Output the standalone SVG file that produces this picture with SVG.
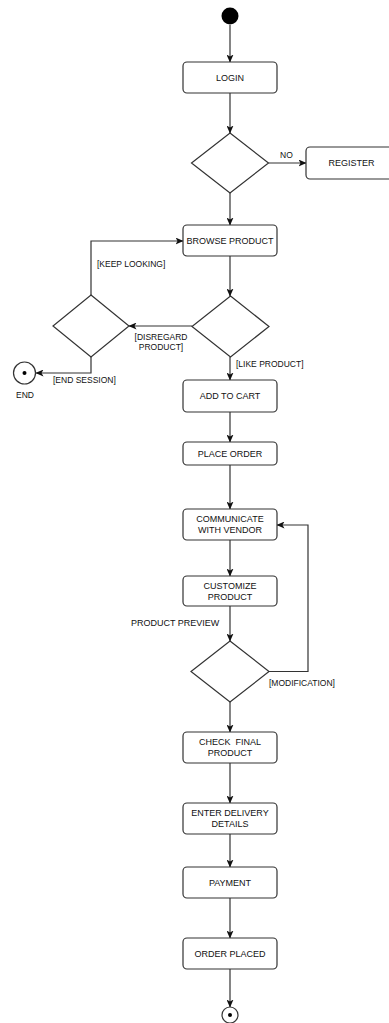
<svg xmlns="http://www.w3.org/2000/svg" width="389" height="1023" viewBox="0 0 389 1023">
<defs>
<style>
.box{fill:#fff;stroke:#333;stroke-width:1.2}
.dia{fill:#fff;stroke:#333;stroke-width:1.2}
.t{font-family:"Liberation Sans",Arial,sans-serif;font-size:9px;fill:#111;text-anchor:middle}
.l{font-family:"Liberation Sans",Arial,sans-serif;font-size:8.5px;fill:#111}
.c{fill:none;stroke:#333;stroke-width:1.2;marker-end:url(#ah)}
</style>
<marker id="ah" viewBox="0 0 8 7" refX="7.5" refY="3.5" markerWidth="8" markerHeight="7" markerUnits="userSpaceOnUse" orient="auto">
<path d="M0,0 L8,3.5 L0,7 L2,3.5 z" fill="#111"/>
</marker>
</defs>
<rect width="389" height="1023" fill="#fff"/>

<g id="connectors">
<path class="c" d="M230,25 V62"/>
<path class="c" d="M230,93 V133"/>
<path class="c" d="M268.5,163 H306"/>
<path class="c" d="M230,193 V225"/>
<path class="c" d="M230,256 V296"/>
<path class="c" d="M192,326 H129"/>
<path class="c" d="M91,295 V241 H183"/>
<path class="c" d="M91,357 V373 H36"/>
<path class="c" d="M230,357 V380"/>
<path class="c" d="M230,412 V442"/>
<path class="c" d="M230,465 V509"/>
<path class="c" d="M230,540 V576"/>
<path class="c" d="M230,606 V641"/>
<path class="c" d="M269,671.5 H308 V525 H277"/>
<path class="c" d="M230,702 V732"/>
<path class="c" d="M230,763 V803"/>
<path class="c" d="M230,834 V867"/>
<path class="c" d="M230,898 V938"/>
<path class="c" d="M230,969 V1007"/>
</g>

<g id="labels">
<text class="l" x="280" y="158">NO</text>
<text class="l" x="97" y="267">[KEEP LOOKING]</text>
<text class="l" x="161" y="340" text-anchor="middle">[DISREGARD</text>
<text class="l" x="161" y="350" text-anchor="middle">PRODUCT]</text>
<text class="l" x="53" y="383">[END SESSION]</text>
<text class="l" x="236" y="367">[LIKE PRODUCT]</text>
<text class="l" x="131" y="626" style="font-size:9px">PRODUCT PREVIEW</text>
<text class="l" x="269" y="686">[MODIFICATION]</text>
</g>

<g id="start"><circle cx="230" cy="16" r="8.5" fill="#000"/></g>

<g id="login"><rect class="box" x="183" y="62" width="94" height="31" rx="4"/><text class="t" x="230" y="80.5">LOGIN</text></g>

<g id="decision1"><polygon class="dia" points="230,133 268.5,163 230,193 191.5,163"/></g>

<g id="register"><rect class="box" x="306" y="147" width="94" height="32" rx="4"/><text class="t" x="351.5" y="166">REGISTER</text></g>

<g id="browse"><rect class="box" x="183" y="225" width="94" height="31" rx="4"/><text class="t" x="230" y="243.5">BROWSE PRODUCT</text></g>

<g id="decision2"><polygon class="dia" points="230.5,296 269,326.5 230.5,357 192,326.5"/></g>

<g id="decision3"><polygon class="dia" points="91,295 129,326 91,357 53,326"/></g>

<g id="end1"><circle cx="24.5" cy="373" r="11" fill="#fff" stroke="#333" stroke-width="1.2"/><circle cx="24.5" cy="373" r="2" fill="#000"/><text class="l" x="16" y="398">END</text></g>

<g id="addcart"><rect class="box" x="183" y="380" width="94" height="32" rx="4"/><text class="t" x="230" y="399">ADD TO CART</text></g>

<g id="placeorder"><rect class="box" x="183" y="442" width="94" height="23" rx="4"/><text class="t" x="230" y="456.5">PLACE ORDER</text></g>

<g id="communicate"><rect class="box" x="183" y="509" width="94" height="31" rx="4"/><text class="t" x="230" y="522">COMMUNICATE</text><text class="t" x="230" y="533">WITH VENDOR</text></g>

<g id="customize"><rect class="box" x="183" y="576" width="94" height="30" rx="4"/><text class="t" x="230" y="588.5">CUSTOMIZE</text><text class="t" x="230" y="599.5">PRODUCT</text></g>

<g id="decision4"><polygon class="dia" points="230,641 269,671.5 230,702 191,671.5"/></g>

<g id="checkfinal"><rect class="box" x="183" y="732" width="94" height="31" rx="4"/><text class="t" x="230" y="745" xml:space="preserve" style="white-space:pre">CHECK  FINAL</text><text class="t" x="230" y="756">PRODUCT</text></g>

<g id="delivery"><rect class="box" x="183" y="803" width="94" height="31" rx="4"/><text class="t" x="230" y="816">ENTER DELIVERY</text><text class="t" x="230" y="827">DETAILS</text></g>

<g id="payment"><rect class="box" x="183" y="867" width="94" height="31" rx="4"/><text class="t" x="230" y="885.5">PAYMENT</text></g>

<g id="orderplaced"><rect class="box" x="183" y="938" width="94" height="31" rx="4"/><text class="t" x="230" y="956.5">ORDER PLACED</text></g>

<g id="end2"><circle cx="230" cy="1015" r="8" fill="#fff" stroke="#333" stroke-width="1.2"/><circle cx="230" cy="1015" r="2" fill="#000"/></g>
</svg>
